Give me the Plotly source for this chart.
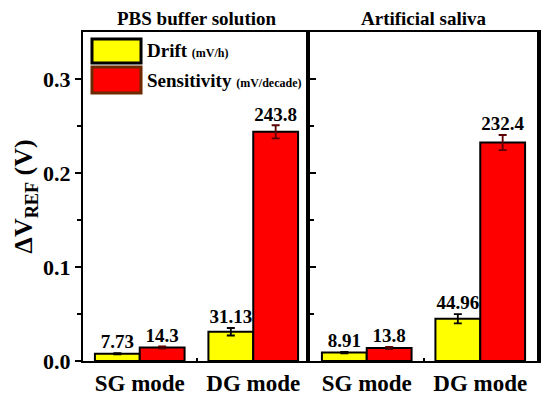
import plotly.graph_objects as go
from plotly.subplots import make_subplots

categories = ["SG mode", "DG mode"]
panels = ["PBS buffer solution", "Artificial saliva"]

drift_pbs = [0.00773, 0.03113]
sens_pbs = [0.0143, 0.2438]
drift_sal = [0.00891, 0.04496]
sens_sal = [0.0138, 0.2324]

drift_pbs_err = [0.0007, 0.004]
sens_pbs_err = [0.0012, 0.007]
drift_sal_err = [0.0007, 0.005]
sens_sal_err = [0.0012, 0.008]

drift_pbs_lbl = ["7.73", "31.13"]
sens_pbs_lbl = ["14.3", "243.8"]
drift_sal_lbl = ["8.91", "44.96"]
sens_sal_lbl = ["13.8", "232.4"]

FONT = "Liberation Serif, Times New Roman, serif"
YELLOW = "#FFFF00"
RED = "#FF0000"

fig = make_subplots(rows=1, cols=2, shared_yaxes=False, horizontal_spacing=0)

xpos = [0, 1]
W = 0.395

def add_panel(col, dvals, derr, dlbl, svals, serr, slbl):
    fig.add_trace(go.Bar(x=xpos, y=dvals, width=W, offset=-W,
                         marker=dict(color=YELLOW, line=dict(color="black", width=2)),
                         error_y=dict(type="data", array=derr, color="black", thickness=1.8, width=4),
                         showlegend=False), row=1, col=col)
    fig.add_trace(go.Bar(x=xpos, y=svals, width=W, offset=0,
                         marker=dict(color=RED, line=dict(color="black", width=2)),
                         error_y=dict(type="data", array=serr, color="#5a0000", thickness=1.8, width=4),
                         showlegend=False), row=1, col=col)
    fig.add_trace(go.Scatter(x=[x - W / 2 for x in xpos],
                             y=[v + e for v, e in zip(dvals, derr)],
                             text=dlbl, mode="text", textposition="top center",
                             textfont=dict(family=FONT, size=19, color="black", weight="bold"),
                             showlegend=False, hoverinfo="skip"), row=1, col=col)
    fig.add_trace(go.Scatter(x=[x + W / 2 for x in xpos],
                             y=[v + e for v, e in zip(svals, serr)],
                             text=slbl, mode="text", textposition="top center",
                             textfont=dict(family=FONT, size=19, color="black", weight="bold"),
                             showlegend=False, hoverinfo="skip"), row=1, col=col)

add_panel(1, drift_pbs, drift_pbs_err, drift_pbs_lbl, sens_pbs, sens_pbs_err, sens_pbs_lbl)
add_panel(2, drift_sal, drift_sal_err, drift_sal_lbl, sens_sal, sens_sal_err, sens_sal_lbl)

xcommon = dict(range=[-0.5, 1.5], tickmode="array", tickvals=xpos, ticktext=categories,
               ticks="", showline=True, linecolor="black", linewidth=2, mirror=True,
               showgrid=False, zeroline=False, automargin=False,
               tickfont=dict(family=FONT, size=23, color="black", weight="bold"),
               minor=dict(tickmode="array", tickvals=[0.5], ticks="inside", ticklen=3,
                          tickcolor="black", tickwidth=2))
fig.update_xaxes(**xcommon)
fig.update_xaxes(domain=[0, 0.5], row=1, col=1)
fig.update_xaxes(domain=[0.5, 1], row=1, col=2)

fig.update_yaxes(range=[0, 0.35], showgrid=False, zeroline=False, automargin=False)
fig.update_yaxes(row=1, col=1, tickmode="array", tickvals=[0.0, 0.1, 0.2, 0.3],
                 ticktext=["0.0", "0.1", "0.2", "0.3"], ticks="outside", ticklen=6,
                 tickwidth=2, tickcolor="black", showline=True, linecolor="black",
                 linewidth=2, mirror=False,
                 tickfont=dict(family=FONT, size=22, color="black", weight="bold"),
                 minor=dict(tickmode="array", tickvals=[0.05, 0.15, 0.25], ticks="outside",
                            ticklen=4, tickwidth=2, tickcolor="black"))
fig.update_yaxes(row=1, col=2, tickmode="array", tickvals=[0.0, 0.1, 0.2, 0.3],
                 showticklabels=False, ticks="inside", ticklen=6, tickwidth=2,
                 tickcolor="black", showline=True, linecolor="black", linewidth=4,
                 mirror=True,
                 minor=dict(tickmode="array", tickvals=[0.05, 0.15, 0.25], ticks="inside",
                            ticklen=4, tickwidth=2, tickcolor="black"))

annotations = []
for i, name in enumerate(panels):
    annotations.append(dict(text=name, xref="paper", yref="paper", x=0.25 + 0.5 * i, y=1.042,
                            xanchor="center", yanchor="middle", showarrow=False,
                            font=dict(family=FONT, size=19, color="black", weight="bold")))
annotations.append(dict(text="ΔV<sub>REF</sub> (V)", xref="paper", yref="paper",
                        x=-0.128, y=0.5, textangle=-90, xanchor="center", yanchor="middle",
                        showarrow=False,
                        font=dict(family=FONT, size=26, color="black", weight="bold")))
# legend
legend_items = [("Drift", "(mV/h)", YELLOW, "black", 0.9787, 0.9058),
                ("Sensitivity", "(mV/decade)", RED, "#6b2a00", 0.8936, 0.8146)]
shapes = []
for name, unit, fill, edge, y1, y0 in legend_items:
    shapes.append(dict(type="rect", xref="paper", yref="paper", x0=0.0198, x1=0.1278,
                       y0=y0, y1=y1, fillcolor=fill, line=dict(color=edge, width=3)))
    annotations.append(dict(text=f"{name} <span style='font-size:12px'>{unit}</span>",
                            xref="paper", yref="paper", x=0.137, y=(y0 + y1) / 2,
                            xanchor="left", yanchor="middle", showarrow=False,
                            font=dict(family=FONT, size=19, color="black", weight="bold")))

# page body has an 8px default margin: offset the figure so the plot lands where the reference has it
fig.update_layout(width=542, height=387, margin=dict(l=75, r=13, t=24, b=34, autoexpand=False),
                  plot_bgcolor="white", paper_bgcolor="white", showlegend=False,
                  annotations=annotations, shapes=shapes, barmode="overlay")
fig.write_html("out.html")
